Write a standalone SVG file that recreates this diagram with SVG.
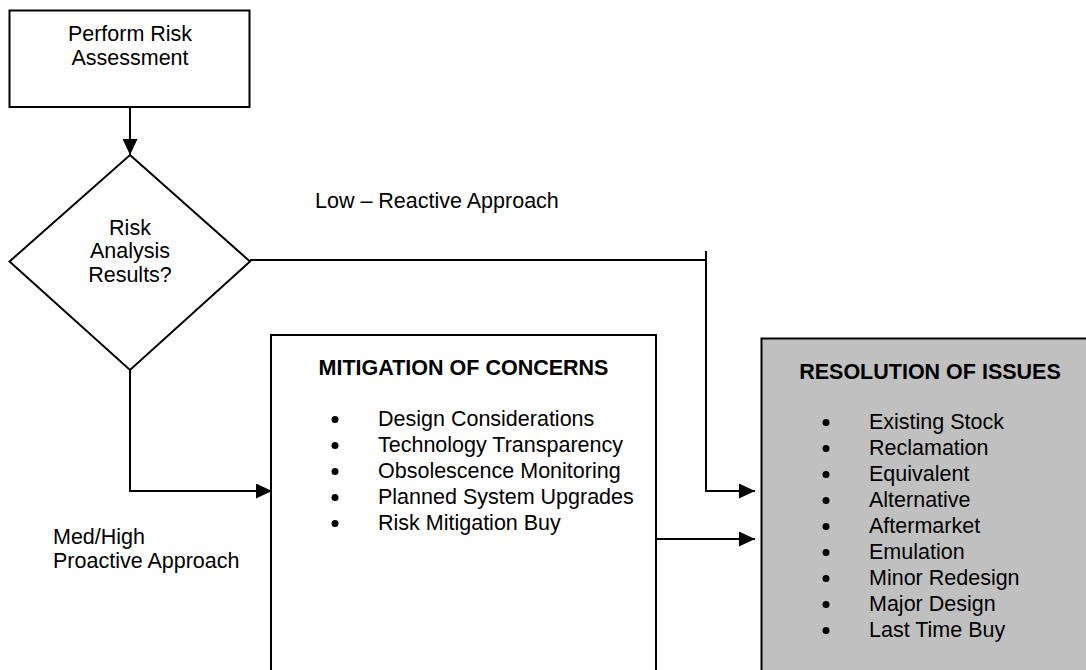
<svg xmlns="http://www.w3.org/2000/svg" width="1086" height="670" viewBox="0 0 1086 670">
<defs>
<style>
text{font-family:"Liberation Sans",Arial,sans-serif;font-size:21.5px;fill:#000}
.c{text-anchor:middle}
.b{font-weight:bold}
.shape{fill:#fff;stroke:#000;stroke-width:2}
.line{fill:none;stroke:#000;stroke-width:2}
.bul{fill:#000}
</style>
<marker id="ah" viewBox="0 0 16 15" refX="16" refY="7.5" markerWidth="16" markerHeight="15" markerUnits="userSpaceOnUse" orient="auto">
<path d="M0,0 L16,7.5 L0,15 Z" fill="#000"/>
</marker>
</defs>
<rect width="1086" height="670" fill="#fff"/>
<g id="assess">
<rect class="shape" x="9.5" y="10.5" width="240" height="96.5"/>
<text class="c" x="130" y="41">Perform Risk</text>
<text class="c" x="130" y="64.5">Assessment</text>
</g>
<g id="decision">
<polygon class="shape" points="130,155 250,261.5 130,370 9.5,261.5"/>
<text class="c" x="130" y="234.5">Risk</text>
<text class="c" x="130" y="258">Analysis</text>
<text class="c" x="130" y="282">Results?</text>
</g>
<g id="mitigation">
<rect class="shape" x="271" y="335" width="385" height="400"/>
<text class="c b" x="463.5" y="375">MITIGATION OF CONCERNS</text>
<circle class="bul" cx="335" cy="419.5" r="3.5"/><text x="378" y="426">Design Considerations</text>
<circle class="bul" cx="335" cy="445.5" r="3.5"/><text x="378" y="452">Technology Transparency</text>
<circle class="bul" cx="335" cy="471.5" r="3.5"/><text x="378" y="478">Obsolescence Monitoring</text>
<circle class="bul" cx="335" cy="497.5" r="3.5"/><text x="378" y="504">Planned System Upgrades</text>
<circle class="bul" cx="335" cy="523.5" r="3.5"/><text x="378" y="530">Risk Mitigation Buy</text>
</g>
<g id="resolution">
<rect x="761.5" y="338.5" width="400" height="400" fill="#c0c0c0" stroke="#000" stroke-width="2"/>
<text class="c b" x="930" y="379">RESOLUTION OF ISSUES</text>
<circle class="bul" cx="826" cy="422.5" r="3.5"/><text x="869" y="429">Existing Stock</text>
<circle class="bul" cx="826" cy="448.5" r="3.5"/><text x="869" y="455">Reclamation</text>
<circle class="bul" cx="826" cy="474.5" r="3.5"/><text x="869" y="481">Equivalent</text>
<circle class="bul" cx="826" cy="500.5" r="3.5"/><text x="869" y="507">Alternative</text>
<circle class="bul" cx="826" cy="526.5" r="3.5"/><text x="869" y="533">Aftermarket</text>
<circle class="bul" cx="826" cy="552.5" r="3.5"/><text x="869" y="559">Emulation</text>
<circle class="bul" cx="826" cy="578.5" r="3.5"/><text x="869" y="585">Minor Redesign</text>
<circle class="bul" cx="826" cy="604.5" r="3.5"/><text x="869" y="611">Major Design</text>
<circle class="bul" cx="826" cy="630.5" r="3.5"/><text x="869" y="637">Last Time Buy</text>
</g>
<g id="connectors">
<line class="line" x1="130" y1="107" x2="130" y2="155" marker-end="url(#ah)"/>
<polyline class="line" points="250,260 706,260"/>
<polyline class="line" points="706,251 706,491 755,491" marker-end="url(#ah)"/>
<polyline class="line" points="130,370 130,491 272,491" marker-end="url(#ah)"/>
<line class="line" x1="656" y1="539" x2="755" y2="539" marker-end="url(#ah)"/>
</g>
<g id="labels">
<text x="315" y="208">Low – Reactive Approach</text>
<text x="53" y="544">Med/High</text>
<text x="53" y="568">Proactive Approach</text>
</g>
</svg>
